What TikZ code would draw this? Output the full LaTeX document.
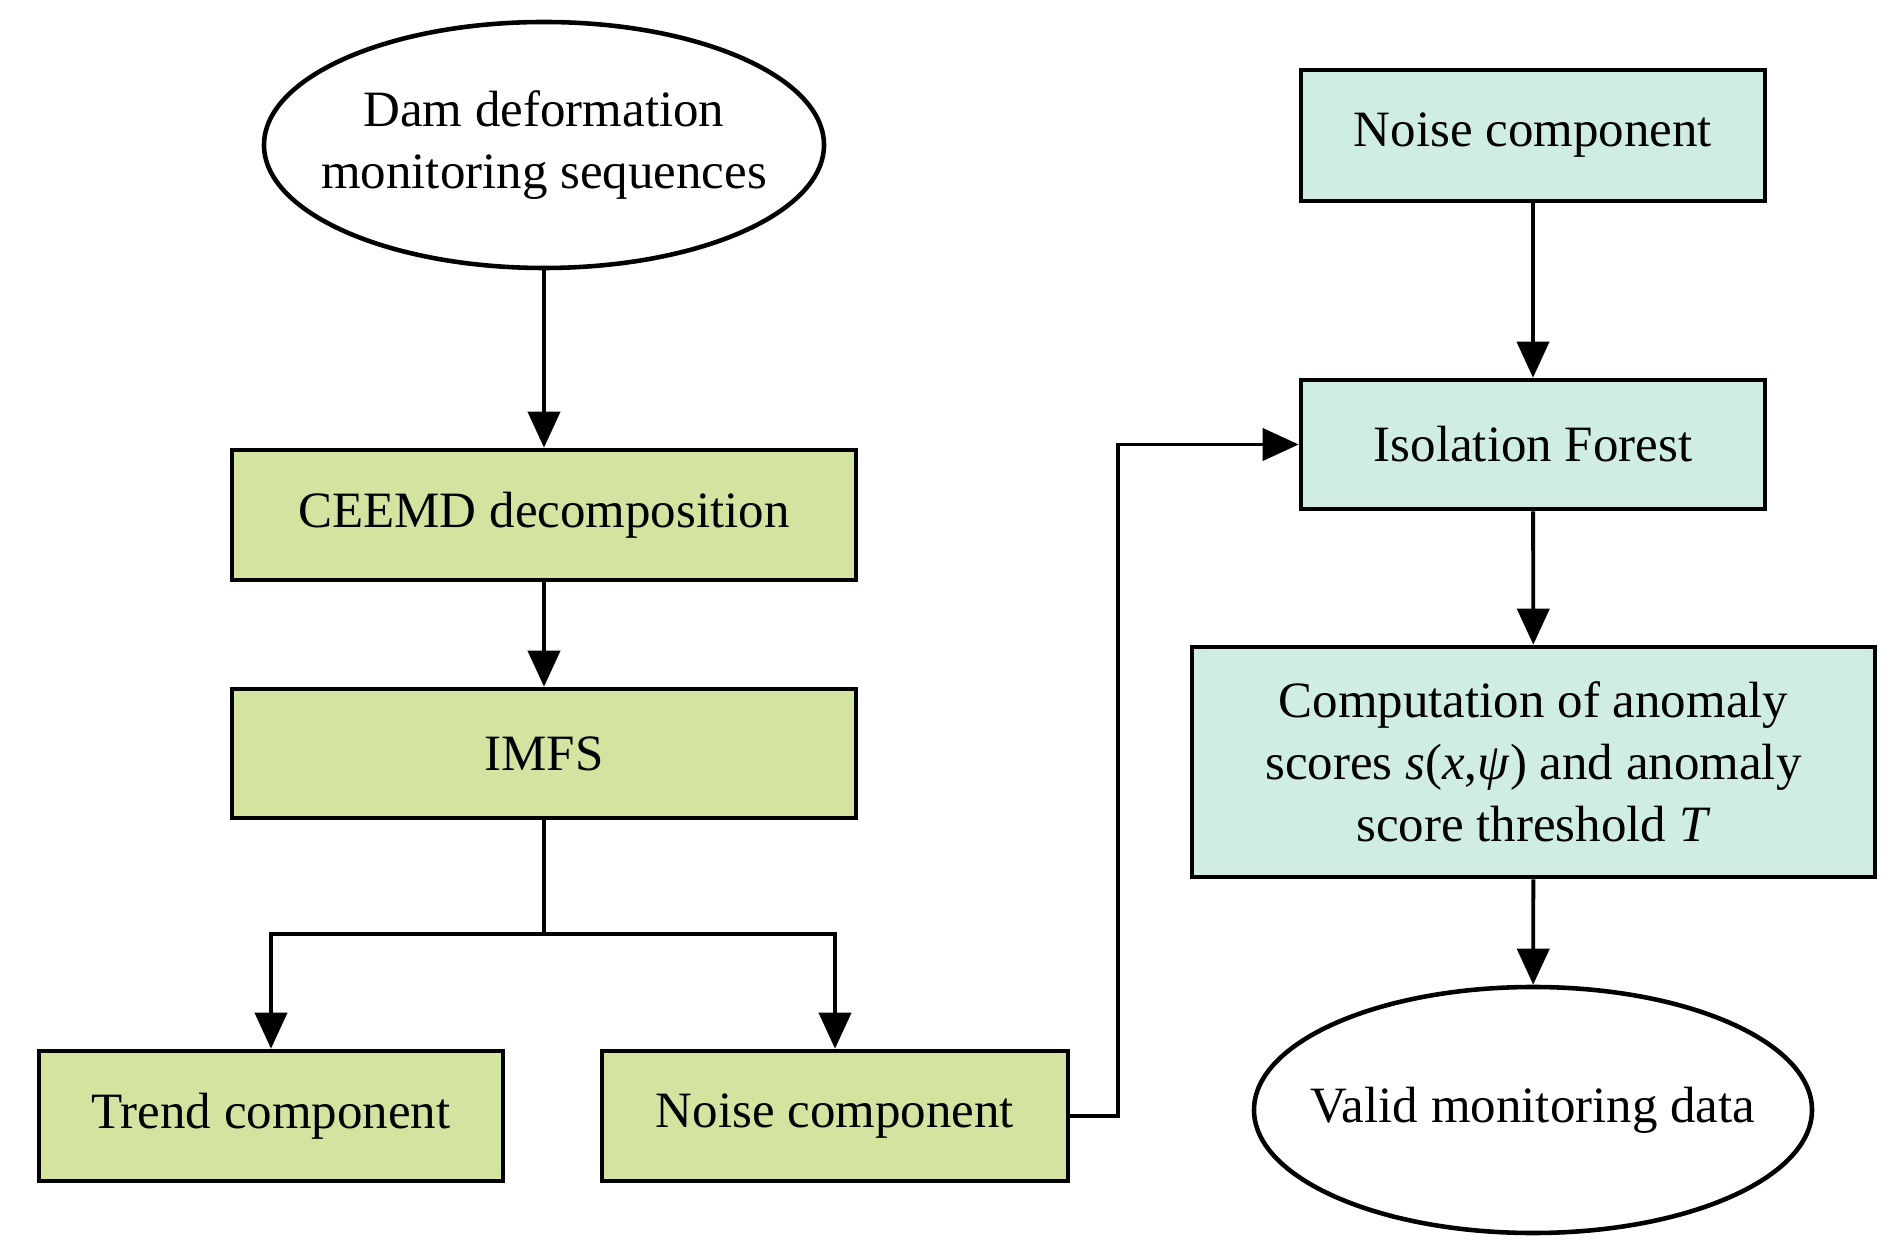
\documentclass[tikz,border=0pt]{standalone}
\usepackage{fontspec}
\setmainfont{Liberation Serif}
\usepackage{tikz}
\usetikzlibrary{arrows.meta,positioning,shapes,calc}

\definecolor{boxgreen}{RGB}{211,227,160}
\definecolor{boxcyan}{RGB}{208,237,228}

\begin{document}
\begin{tikzpicture}[
    every node/.style={font=\fontsize{14.5}{17.6}\selectfont, align=center},
    stepgreen/.style={draw, line width=1.3pt, fill=boxgreen, rectangle, inner sep=0pt},
    stepcyan/.style={draw, line width=1.3pt, fill=boxcyan, rectangle, inner sep=0pt},
    terminal/.style={draw, line width=1.3pt, ellipse, inner xsep=-0.5cm, inner ysep=0pt},
    conn/.style={line width=1.1pt, -{Triangle[length=0.36cm, width=0.32cm]}},
    plain/.style={line width=1.1pt}
  ]
  \useasboundingbox (0,0) rectangle (18.96,12.58);

  % left column
  \node[terminal, minimum width=5.6cm, minimum height=2.46cm] (dam) at (5.44, 11.13)
    {Dam deformation\\monitoring sequences};
  \node[stepgreen, minimum width=6.24cm, minimum height=1.3cm] (ceemd) at (5.44, 7.43)
    {CEEMD decomposition};
  \node[stepgreen, minimum width=6.24cm, minimum height=1.29cm] (imfs) at (5.44, 5.045)
    {IMFS};
  \node[stepgreen, minimum width=4.64cm, minimum height=1.3cm] (trend) at (2.71, 1.42)
    {Trend component};
  \node[stepgreen, minimum width=4.66cm, minimum height=1.3cm] (noiseL) at (8.35, 1.42)
    {Noise component};

  % right column
  \node[stepcyan, minimum width=4.64cm, minimum height=1.31cm] (noiseR) at (15.33, 11.225)
    {Noise component};
  \node[stepcyan, minimum width=4.64cm, minimum height=1.29cm] (iforest) at (15.33, 8.135)
    {Isolation Forest};
  \node[stepcyan, minimum width=6.83cm, minimum height=2.3cm] (score) at (15.335, 4.96)
    {Computation of anomaly\\scores \textit{s}(\textit{x},\textit{ψ}) and anomaly\\score threshold \textit{T}};
  \node[terminal, minimum width=5.58cm, minimum height=2.46cm] (valid) at (15.33, 1.48)
    {Valid monitoring data};

  \coordinate (split) at (5.44, 3.24);
  \coordinate (turn) at (11.18, 1.42);

  \draw[conn] (dam) -- (ceemd);
  \draw[conn] (ceemd) -- (imfs);
  \draw[plain] (imfs.south) -- (split);
  \draw[conn] (split) -| (trend.north);
  \draw[conn] (split) -| (noiseL.north);
  \draw[conn] (noiseL.east) -- (turn) |- (iforest.west);

  \draw[conn] (noiseR) -- (iforest);
  \draw[conn] (iforest) -- (score);
  \draw[conn] (score) -- (valid);
\end{tikzpicture}
\end{document}
